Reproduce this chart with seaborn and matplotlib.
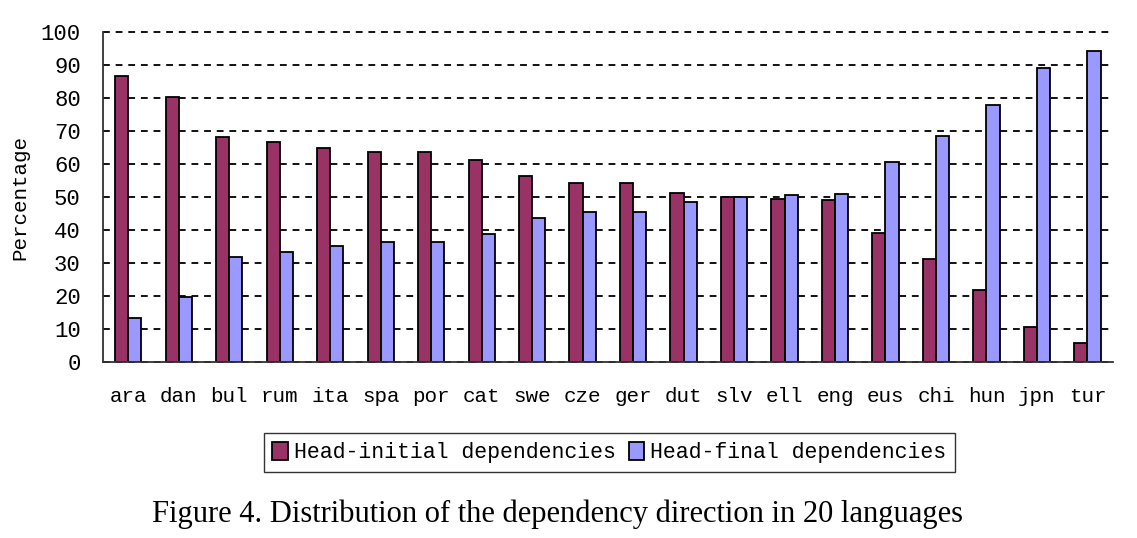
import numpy as np
import pandas as pd
import matplotlib
matplotlib.use("Agg")
import matplotlib.pyplot as plt
import seaborn as sns

languages = ["ara", "dan", "bul", "rum", "ita", "spa", "por", "cat", "swe", "cze",
             "ger", "dut", "slv", "ell", "eng", "eus", "chi", "hun", "jpn", "tur"]
head_initial = [86.7, 80.4, 68.1, 66.6, 64.8, 63.7, 63.7, 61.2, 56.4, 54.4,
                54.4, 51.4, 50.0, 49.4, 49.0, 39.2, 31.4, 22.0, 10.7, 5.8]
head_final = [13.3, 19.6, 31.9, 33.4, 35.2, 36.3, 36.3, 38.8, 43.6, 45.6,
              45.6, 48.6, 50.0, 50.6, 51.0, 60.8, 68.6, 78.0, 89.3, 94.2]
series_names = ["Head-initial dependencies", "Head-final dependencies"]

df = pd.DataFrame({
    "lang": languages * 2,
    "value": head_initial + head_final,
    "series": [series_names[0]] * len(languages) + [series_names[1]] * len(languages),
})

sns.set_style("white")
plt.rcParams["font.family"] = ["Liberation Mono", "DejaVu Sans Mono"]
plt.rcParams.update({"text.color": "black", "axes.labelcolor": "black",
                     "xtick.color": "black", "ytick.color": "black"})

fig = plt.figure(figsize=(11.37, 5.38), dpi=100)
ax = fig.add_axes([0.0906, 0.327, 0.888, 0.613])

sns.barplot(data=df, x="lang", y="value", hue="series",
            palette={series_names[0]: "#993366", series_names[1]: "#9999FF"},
            width=0.52, edgecolor="black", linewidth=1.3, saturation=1,
            ax=ax, legend=True)

ax.set_xlim(-0.5, len(languages) - 0.5)
ax.set_ylim(0, 100)
ax.set_yticks(np.arange(0, 101, 10))
ax.yaxis.grid(True, color="#111111", linestyle=(0, (3.5, 3)), linewidth=1.4)
for gl in ax.get_ygridlines():
    gl.set_clip_on(False)
ax.set_axisbelow(True)
for s in ["top", "right"]:
    ax.spines[s].set_visible(False)
for s in ["left", "bottom"]:
    ax.spines[s].set_color("#333333")
    ax.spines[s].set_linewidth(1.3)

ax.set_xticks(np.arange(-0.5, len(languages), 1.0), minor=True)
ax.tick_params(axis="x", which="minor", direction="in", length=6, width=1.2, color="#333333")
ax.tick_params(axis="x", which="major", length=0, pad=18, labelsize=15)
ax.tick_params(axis="y", length=0, labelsize=16, pad=16)
ax.set_xlabel("")
ax.set_ylabel("Percentage", fontsize=15, labelpad=8)

handles, labels = ax.get_legend_handles_labels()
ax.legend_.remove()
leg = fig.legend(handles, labels, loc="center", bbox_to_anchor=(0.536, 0.159),
                 ncol=2, frameon=True, fancybox=False, edgecolor="black",
                 fontsize=15.5, handlelength=0.7, handleheight=0.9,
                 handletextpad=0.3, columnspacing=0.6, borderpad=0.4)
leg.get_frame().set_linewidth(1.0)

fig.text(0.49, 0.045, "Figure 4. Distribution of the dependency direction in 20 languages",
         ha="center", va="center", fontsize=22, family=["Liberation Serif"])

fig.savefig("out.png", dpi=100)
